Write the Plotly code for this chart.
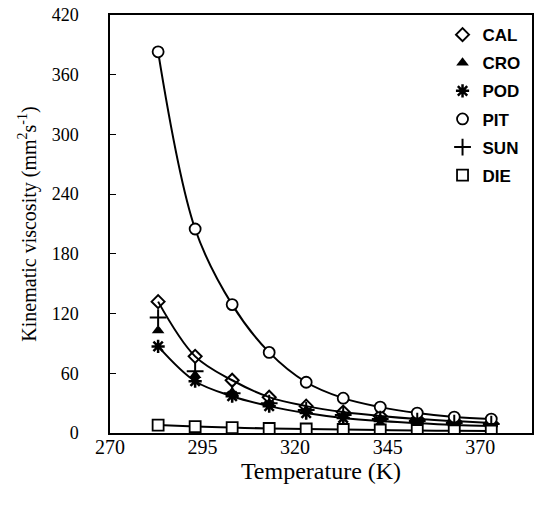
import plotly.graph_objects as go

temperature = [283, 293, 303, 313, 323, 333, 343, 353, 363, 373]
cal = [132, 77, 53, 36, 27, 21, 17, 14, 12, 10]
cro = [103, 58, 41, 30, 23, 18, 14, 12, 10, 9]
pod = [87, 52, 37, 27, 20, 15, 12, 10, 8, 7]
pit = [383, 205, 129, 81, 51, 35, 26, 20, 16, 14]
sun = [116, 62, 40, 30, 23, 18, 14, 12, 10, 9]
die = [8, 6.5, 5.5, 4.5, 4, 3.5, 3, 2.5, 2.2, 2]

x_ticks = [270, 295, 320, 345, 370]
y_ticks = [0, 60, 120, 180, 240, 300, 360, 420]

series = [
    ("CAL", cal, dict(symbol="diamond-open", size=10, color="black", line=dict(width=2, color="black")), True),
    ("CRO", cro, dict(symbol="triangle-up", size=11, color="black"), False),
    ("POD", pod, dict(symbol="asterisk-open", size=11, color="black", line=dict(width=2.5, color="black")), True),
    ("PIT", pit, dict(symbol="circle", size=11, color="white", line=dict(width=1.8, color="black")), True),
    ("SUN", sun, dict(symbol="cross-thin-open", size=12, color="black", line=dict(width=2, color="black")), False),
    ("DIE", die, dict(symbol="square", size=11, color="white", line=dict(width=1.8, color="black")), True),
]

fig = go.Figure()
# fitted curves first
for name, vals, mk, has_line in series:
    if has_line:
        fig.add_trace(go.Scatter(x=temperature, y=vals, mode="lines",
                                 line=dict(color="black", width=2, shape="spline", smoothing=1.0),
                                 showlegend=False, hoverinfo="skip"))
for i, (name, vals, mk, has_line) in enumerate(series):
    fig.add_trace(go.Scatter(x=temperature, y=vals, mode="markers", name=name,
                             marker=mk, legendgroup=f"g{i}"))

fig.update_layout(
    width=537, height=510,
    margin=dict(l=110, r=5, t=15, b=77, autoexpand=False),
    paper_bgcolor="white", plot_bgcolor="white",
    font=dict(family="Liberation Serif", size=18, color="black"),
    showlegend=True,
    legend=dict(x=0.788, y=0.995, xanchor="left", yanchor="top",
                font=dict(family="Liberation Sans", size=17, color="black", weight="bold"),
                bgcolor="rgba(0,0,0,0)", tracegroupgap=3, traceorder="grouped",
                itemwidth=30),
    xaxis=dict(range=[270, 384], tickvals=x_ticks, ticks="", showgrid=False, zeroline=False,
               showline=True, linecolor="black", linewidth=1.5, mirror=True,
               automargin=False,
               ticklabelstandoff=-5, tickfont=dict(size=20),
               title=dict(text="Temperature (K)", standoff=2, font=dict(size=24))),
    yaxis=dict(range=[0, 420], tickvals=y_ticks, ticks="inside", ticklen=6, tickwidth=1.2,
               tickcolor="black", showgrid=False, zeroline=False,
               showline=True, linecolor="black", linewidth=1.5, mirror=True,
               automargin=False,
               ticklabelstandoff=26, tickfont=dict(size=18), ticklabeloverflow="allow",
               title=dict(text="Kinematic viscosity (mm<sup>2</sup>s<sup>-1</sup>)", standoff=10,
                          font=dict(size=20))),
)

fig.write_html("out.html", config={"displayModeBar": False},
               post_script="document.body.style.margin='0';")
